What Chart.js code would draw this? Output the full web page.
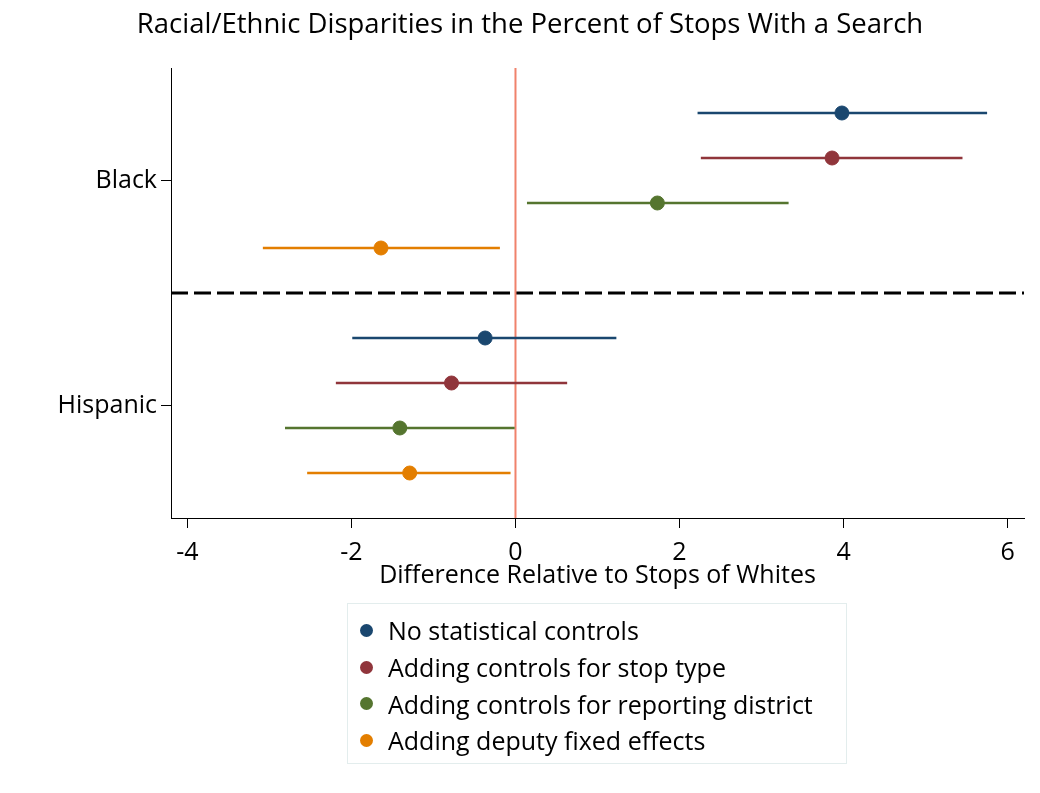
<!DOCTYPE html>
<html>
<head>
<meta charset="utf-8">
<title>Search disparities</title>
<script src="https://cdn.jsdelivr.net/npm/chart.js@4/dist/chart.umd.min.js"></script>
<style>
    body { margin: 0; background: #fff; }
    #wrap { position: relative; width: 1040px; height: 793px; }
    #legend {
        position: absolute; left: 347px; top: 603px; width: 500px; height: 161px;
        box-sizing: border-box; border: 1px solid #e3eded; padding-top: 8px;
        font-family: 'Open Sans', sans-serif; font-size: 25px; color: #000;
    }
    .item { display: flex; align-items: center; height: 36.7px; white-space: nowrap; }
    .dot { width: 13px; height: 13px; border-radius: 50%; margin: 0 15px 0 12px; flex: none; }
</style>
</head>
<body>
<div id="wrap">
    <canvas id="chart" width="1040" height="793"></canvas>
    <div id="legend"></div>
</div>
<script>
// =================================================================
// Data
// =================================================================
const groups = ['Black', 'Hispanic'];
const seriesNames = [
    'No statistical controls',
    'Adding controls for stop type',
    'Adding controls for reporting district',
    'Adding deputy fixed effects'
];
const seriesColors = ['#1a476f', '#90353b', '#55752f', '#e37e00'];

// estimates and 95% CI bounds, ordered [Black, Hispanic]
const noControls = [3.98, -0.37];
const noControlsLo = [2.22, -1.99];
const noControlsHi = [5.75, 1.23];

const stopType = [3.86, -0.78];
const stopTypeLo = [2.26, -2.19];
const stopTypeHi = [5.45, 0.63];

const district = [1.73, -1.41];
const districtLo = [0.14, -2.81];
const districtHi = [3.33, -0.01];

const deputy = [-1.64, -1.29];
const deputyLo = [-3.08, -2.54];
const deputyHi = [-0.19, -0.06];

const xTicks = [-4, -2, 0, 2, 4, 6];

// =================================================================
// Build datasets
// =================================================================
const estimates = [noControls, stopType, district, deputy];
const lowers = [noControlsLo, stopTypeLo, districtLo, deputyLo];
const uppers = [noControlsHi, stopTypeHi, districtHi, deputyHi];
const ROWS_PER_GROUP = 5;
const rowOf = (g, i) => g * ROWS_PER_GROUP + i + 1;
const X_MIN = -4.2, X_MAX = 6.2, Y_MAX = groups.length * ROWS_PER_GROUP;

const datasets = [];
seriesNames.forEach((name, i) => {
    datasets.push({
        label: name,
        data: groups.map((g, k) => ({ x: estimates[i][k], y: rowOf(k, i) })),
        showLine: false,
        backgroundColor: seriesColors[i],
        borderColor: seriesColors[i],
        pointRadius: 7,
        pointHoverRadius: 7,
        order: 0
    });
    groups.forEach((g, k) => {
        datasets.push({
            data: [{ x: lowers[i][k], y: rowOf(k, i) }, { x: uppers[i][k], y: rowOf(k, i) }],
            showLine: true,
            borderColor: seriesColors[i],
            borderWidth: 2.5,
            pointRadius: 0,
            order: 1
        });
    });
});

// zero reference line
datasets.push({
    data: [{ x: 0, y: 0 }, { x: 0, y: Y_MAX }],
    showLine: true,
    borderColor: '#f0826c',
    borderWidth: 2,
    pointRadius: 0,
    order: 2
});
// dashed separator between groups
datasets.push({
    data: [{ x: X_MIN, y: ROWS_PER_GROUP }, { x: X_MAX, y: ROWS_PER_GROUP }],
    showLine: true,
    borderColor: '#000',
    borderWidth: 3,
    borderDash: [17, 6],
    pointRadius: 0,
    order: 3
});

const FONT = { family: "'Open Sans', sans-serif", size: 25, weight: 'normal' };

new Chart(document.getElementById('chart'), {
    type: 'scatter',
    data: { datasets },
    options: {
        responsive: false,
        animation: false,
        layout: { padding: { left: 36, right: 16, top: 0, bottom: 0 } },
        plugins: {
            legend: { display: false },
            tooltip: { enabled: false },
            title: {
                display: true,
                text: 'Racial/Ethnic Disparities in the Percent of Stops With a Search',
                color: '#000',
                font: { ...FONT, size: 27.5 },
                padding: { top: 9, bottom: 26 }
            }
        },
        scales: {
            x: {
                type: 'linear',
                min: X_MIN,
                max: X_MAX,
                afterBuildTicks: s => { s.ticks = xTicks.map(v => ({ value: v })); },
                afterFit: s => { s.height = 275; },
                grid: { drawOnChartArea: false, drawTicks: true, tickLength: 10, color: '#000' },
                border: { color: '#000', width: 1 },
                ticks: { color: '#000', font: FONT, padding: 10, maxRotation: 0, callback: v => String(v) },
                title: {
                    display: true,
                    text: 'Difference Relative to Stops of Whites',
                    color: '#000',
                    font: FONT,
                    padding: { top: 0, bottom: 202 }
                }
            },
            y: {
                type: 'linear',
                min: 0,
                max: Y_MAX,
                reverse: true,
                afterBuildTicks: s => { s.ticks = groups.map((g, k) => ({ value: k * ROWS_PER_GROUP + ROWS_PER_GROUP / 2 })); },
                afterFit: s => { s.width = 135; },
                grid: { drawOnChartArea: false, drawTicks: true, tickLength: 10, color: '#000' },
                border: { color: '#000', width: 1 },
                ticks: { color: '#000', font: FONT, padding: 4, callback: (v, idx) => groups[idx] }
            }
        }
    }
});

// legend, one entry per column of estimates
document.getElementById('legend').innerHTML = seriesNames.map((name, i) => `
    <div class="item"><span class="dot" style="background:${seriesColors[i]}"></span>${name}</div>
`).join('');
</script>
</body>
</html>
